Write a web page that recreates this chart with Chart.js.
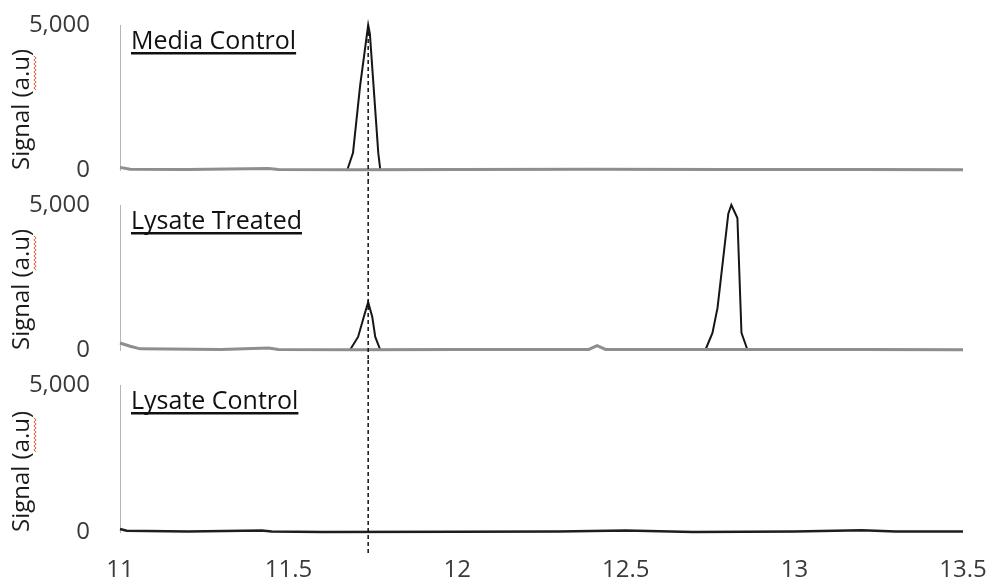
<!DOCTYPE html>
<html>
<head>
<meta charset="utf-8">
<script src="https://cdn.jsdelivr.net/npm/chart.js@4"></script>
<style>
  body { margin: 0; background: #fff; }
  #panels { position: relative; width: 987px; height: 581px; }
  #panels canvas { position: absolute; left: 0; }
</style>
</head>
<body>
<div id="panels">
  <canvas id="mediaControl" width="987" height="180" style="top:0"></canvas>
  <canvas id="lysateTreated" width="987" height="180" style="top:180px"></canvas>
  <canvas id="lysateControl" width="987" height="221" style="top:360px"></canvas>
</div>
<script>
// retention time (min) ticks, signal ticks and the reference retention time
const timeTicks = [11, 11.5, 12, 12.5, 13, 13.5];
const signalTicks = [0, 5000];
const markerTime = 11.736;

// Media Control
const mediaBaseTime = [11, 11.03, 11.2, 11.44, 11.47, 11.7, 12, 12.4, 12.8, 13.2, 13.5];
const mediaBaseSignal = [90, 30, 20, 50, 20, 10, 15, 30, 20, 15, 10];
const mediaPeakTime = [11.674, 11.691, 11.712, 11.736, 11.741, 11.766, 11.772];
const mediaPeakSignal = [0, 590, 2900, 5000, 4700, 580, 0];

// Lysate Treated
const treatedBaseTime = [11, 11.03, 11.06, 11.3, 11.44, 11.47, 11.7, 12, 12.39, 12.415, 12.44, 12.8, 13.2, 13.5];
const treatedBaseSignal = [240, 130, 40, 20, 70, 20, 10, 15, 20, 150, 20, 15, 20, 10];
const treatedPeakTime = [11.682, 11.706, 11.727, 11.736, 11.748, 11.757, 11.772];
const treatedPeakSignal = [0, 450, 1300, 1650, 1150, 450, 0];
const treatedPeak2Time = [12.736, 12.757, 12.772, 12.804, 12.813, 12.831, 12.843, 12.861];
const treatedPeak2Signal = [0, 590, 1450, 4700, 5000, 4550, 590, 0];

// Lysate Control
const controlTime = [11, 11.02, 11.2, 11.42, 11.45, 11.6, 12, 12.3, 12.5, 12.7, 13, 13.2, 13.3, 13.5];
const controlSignal = [100, 40, 20, 50, 20, 0, 10, 20, 50, 0, 20, 60, 20, 20];

const FONT = '"Open Sans", "DejaVu Sans", sans-serif';

function points(xs, ys) {
  return xs.map((x, i) => ({ x: x, y: ys[i] }));
}

// panel caption, dashed retention-time marker and the squiggle under "a.u"
const panelDecor = {
  id: 'panelDecor',
  afterDraw(chart, args, opts) {
    const ctx = chart.ctx;
    const area = chart.chartArea;
    ctx.save();

    // dashed marker
    const mx = chart.scales.x.getPixelForValue(markerTime);
    ctx.strokeStyle = '#111';
    ctx.lineWidth = 1.5;
    ctx.setLineDash([4, 3]);
    ctx.beginPath();
    ctx.moveTo(mx, opts.markerTop === null ? area.top : opts.markerTop);
    ctx.lineTo(mx, opts.markerBottom);
    ctx.stroke();
    ctx.setLineDash([]);

    // underlined caption
    ctx.font = '25px ' + FONT;
    ctx.fillStyle = '#111';
    ctx.textBaseline = 'alphabetic';
    const tx = area.left + 11;
    const ty = area.top + 24;
    ctx.fillText(opts.caption, tx, ty);
    const w = ctx.measureText(opts.caption).width;
    ctx.fillRect(tx, ty + 3, w, 2.5);

    // red spell-check squiggle beside "a.u"
    ctx.font = '24px ' + FONT;
    const w1 = ctx.measureText('Signal (').width;
    const w2 = ctx.measureText('a.u').width;
    const y0 = area.bottom - w1 - w2;
    const y1 = area.bottom - w1;
    ctx.strokeStyle = '#e2603f';
    ctx.lineWidth = 1;
    ctx.beginPath();
    let k = 0;
    for (let y = y0; y <= y1; y += 2, k++) {
      const x = 35 + (k % 2 ? 1.2 : -1.2);
      if (k === 0) ctx.moveTo(x, y); else ctx.lineTo(x, y);
    }
    ctx.stroke();
    ctx.restore();
  }
};

function makePanel(id, datasets, caption, showX, markerTop, markerBottom) {
  return new Chart(document.getElementById(id), {
    type: 'line',
    data: { datasets: datasets },
    plugins: [panelDecor],
    options: {
      responsive: false,
      animation: false,
      layout: { padding: { top: 25, bottom: showX ? 0 : 10, left: 0, right: 24 } },
      elements: { point: { radius: 0 }, line: { tension: 0 } },
      plugins: {
        legend: { display: false },
        tooltip: { enabled: false },
        panelDecor: { caption: caption, markerTop: markerTop, markerBottom: markerBottom }
      },
      scales: {
        x: {
          type: 'linear',
          min: 11,
          max: 13.5,
          display: showX,
          afterBuildTicks: (axis) => { axis.ticks = timeTicks.map(v => ({ value: v })); },
          afterFit: (axis) => {
            if (showX) axis.height = 49;
            axis.paddingLeft = 0;
            axis.paddingRight = 0;
          },
          grid: { display: false, drawTicks: false },
          border: { display: false },
          ticks: {
            padding: 24,
            color: '#3a3a3a',
            font: { family: FONT, size: 24 },
            maxRotation: 0,
            callback: (v) => v.toLocaleString('en-US')
          }
        },
        y: {
          min: 0,
          max: 5000,
          afterBuildTicks: (axis) => { axis.ticks = signalTicks.map(v => ({ value: v })); },
          afterFit: (axis) => {
            axis.width = 120;
            axis.paddingTop = 0;
            axis.paddingBottom = 0;
          },
          grid: { display: false, drawTicks: false },
          border: { display: true, color: '#b5b5b5', width: 1 },
          ticks: {
            padding: 30,
            color: '#3a3a3a',
            font: { family: FONT, size: 24 },
            callback: (v) => v.toLocaleString('en-US')
          },
          title: {
            display: true,
            text: 'Signal (a.u)',
            align: 'start',
            color: '#1a1a1a',
            padding: { top: 8, bottom: 0 },
            font: { family: FONT, size: 24 }
          }
        }
      }
    }
  });
}

const baseStyle = { borderColor: '#8e8e8e', borderWidth: 3, clip: 6 };
const peakStyle = { borderColor: '#161616', borderWidth: 2, clip: 6 };

makePanel('mediaControl', [
  Object.assign({ label: 'Media Control baseline', data: points(mediaBaseTime, mediaBaseSignal) }, baseStyle),
  Object.assign({ label: 'Media Control', data: points(mediaPeakTime, mediaPeakSignal) }, peakStyle)
], 'Media Control', false, null, 180);

makePanel('lysateTreated', [
  Object.assign({ label: 'Lysate Treated baseline', data: points(treatedBaseTime, treatedBaseSignal) }, baseStyle),
  Object.assign({ label: 'Lysate Treated', data: points(treatedPeakTime, treatedPeakSignal) }, peakStyle),
  Object.assign({ label: 'Lysate Treated 2', data: points(treatedPeak2Time, treatedPeak2Signal) }, peakStyle)
], 'Lysate Treated', false, 0, 180);

makePanel('lysateControl', [
  { label: 'Lysate Control', data: points(controlTime, controlSignal), borderColor: '#1e1e1e', borderWidth: 2.5, clip: 6 }
], 'Lysate Control', true, 0, 193);
</script>
</body>
</html>
